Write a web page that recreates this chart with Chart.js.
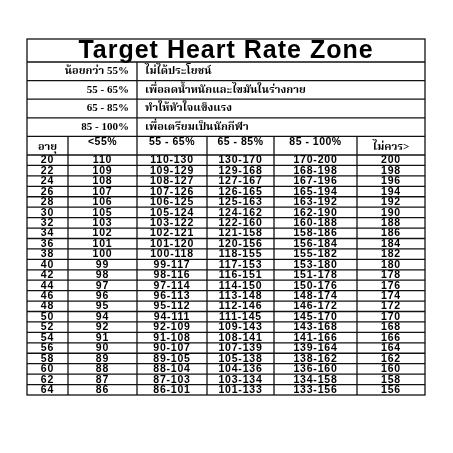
<!DOCTYPE html>
<html><head><meta charset="utf-8">
<script src="https://cdn.jsdelivr.net/npm/chart.js@4"></script>
<style>html,body{margin:0;padding:0;background:#fff}#wrap{width:453px;height:453px}</style>
</head><body><div id="wrap"><canvas id="c"></canvas></div>
<script>
  const title = 'Target Heart Rate Zone';
  const zoneLabels = ['น้อยกว่า 55%', '55 - 65%', '65 - 85%', '85 - 100%'];
  const zoneNotes = ['ไม่ได้ประโยชน์', 'เพื่อลดน้ำหนักและไขมันในร่างกาย', 'ทำให้หัวใจแข็งแรง', 'เพื่อเตรียมเป็นนักกีฬา'];
  const headers = ['อายุ', '<55%', '55 - 65%', '65 - 85%', '85 - 100%', 'ไม่ควร>'];
  const ages = [20, 22, 24, 26, 28, 30, 32, 34, 36, 38, 40, 42, 44, 46, 48, 50, 52, 54, 56, 58, 60, 62, 64];
  const hr55 = [110, 109, 108, 107, 106, 105, 103, 102, 101, 100, 99, 98, 97, 96, 95, 94, 92, 91, 90, 89, 88, 87, 86];
  const hr65 = [130, 129, 127, 126, 125, 124, 122, 121, 120, 118, 117, 116, 114, 113, 112, 111, 109, 108, 107, 105, 104, 103, 101];
  const hr85 = [170, 168, 167, 165, 163, 162, 160, 158, 156, 155, 153, 151, 150, 148, 146, 145, 143, 141, 139, 138, 136, 134, 133];
  const hrMax = [200, 198, 196, 194, 192, 190, 188, 186, 184, 182, 180, 178, 176, 174, 172, 170, 168, 166, 164, 162, 160, 158, 156];

  // layout (page pixels)
  const colX = [27, 68, 137, 207, 274, 357, 425];
  const tableTop = 39, titleB = 62, zoneH = 18.6, headB = 155, tableBottom = 395;
  const serif = '"Liberation Serif", "Noto Serif Thai", "Noto Sans Thai", serif';
  const sans = '"Liberation Sans", Arial, sans-serif';

  const rows = ages.map((a, i) => [a, hr55[i], hr55[i] + '-' + hr65[i], hr65[i] + '-' + hr85[i], hr85[i] + '-' + hrMax[i], hrMax[i]]);

  const tablePlugin = {
    id: 'table',
    afterDraw(chart) {
      const ctx = chart.ctx, xs = chart.scales.x, ys = chart.scales.y;
      const X = v => xs.getPixelForValue(v), Y = v => ys.getPixelForValue(v);
      const L = X(colX[0]), R = X(colX[6]);
      const rowH = (tableBottom - headB) / rows.length;
      ctx.save();
      ctx.strokeStyle = '#111';
      ctx.lineWidth = 1.3;
      const line = (x1, y1, x2, y2) => { ctx.beginPath(); ctx.moveTo(X(x1), Y(y1)); ctx.lineTo(X(x2), Y(y2)); ctx.stroke(); };
      ctx.strokeRect(L, Y(tableTop), R - L, Y(tableBottom) - Y(tableTop));
      line(colX[0], titleB, colX[6], titleB);
      for (let i = 1; i <= 4; i++) line(colX[0], titleB + zoneH * i, colX[6], titleB + zoneH * i);
      line(colX[2], titleB, colX[2], titleB + zoneH * 4);
      for (let i = 1; i < rows.length; i++) line(colX[0], headB + rowH * i, colX[6], headB + rowH * i);
      line(colX[0], headB, colX[6], headB);
      for (let c = 1; c < 6; c++) line(colX[c], titleB + zoneH * 4, colX[c], tableBottom);

      ctx.fillStyle = '#000';
      ctx.textBaseline = 'middle';
      ctx.textAlign = 'center';
      ctx.font = 'bold 25px ' + sans;
      ctx.letterSpacing = '1px';
      ctx.fillText(title, (L + R) / 2, Y((tableTop + titleB) / 2 + 1));
      ctx.letterSpacing = '0px';
      ctx.font = 'bold 11px ' + serif;
      zoneLabels.forEach((t, i) => {
        const yc = Y(titleB + zoneH * (i + 0.5));
        ctx.textAlign = 'right'; ctx.fillText(t, X(colX[2] - 8), yc);
        ctx.textAlign = 'left'; ctx.fillText(zoneNotes[i], X(colX[2] + 8), yc);
      });
      ctx.textAlign = 'center';
      headers.forEach((h, c) => {
        const thai = c === 0 || c === 5;
        ctx.font = thai ? 'bold 11px ' + serif : 'bold 10.5px ' + sans;
        ctx.letterSpacing = thai ? '0px' : '0.5px';
        ctx.fillText(h, X((colX[c] + colX[c + 1]) / 2), Y(titleB + zoneH * 4 + (thai ? 10.5 : 6)));
      });
      ctx.font = 'bold 10.5px ' + sans;
      ctx.letterSpacing = '0.8px';
      rows.forEach((r, i) => {
        r.forEach((v, c) => ctx.fillText(String(v), X((colX[c] + colX[c + 1]) / 2), Y(headB + rowH * (i + 0.5) + 0.3)));
      });
      ctx.restore();
    }
  };

  new Chart(document.getElementById('c'), {
    type: 'scatter',
    data: { datasets: [{ data: [] }] },
    options: {
      responsive: true, maintainAspectRatio: false, animation: false,
      layout: { padding: 0 },
      plugins: { legend: { display: false }, tooltip: { enabled: false } },
      scales: {
        x: { type: 'linear', min: 0, max: 453, display: false },
        y: { type: 'linear', min: 0, max: 453, reverse: true, display: false }
      }
    },
    plugins: [tablePlugin]
  });
</script></body></html>
